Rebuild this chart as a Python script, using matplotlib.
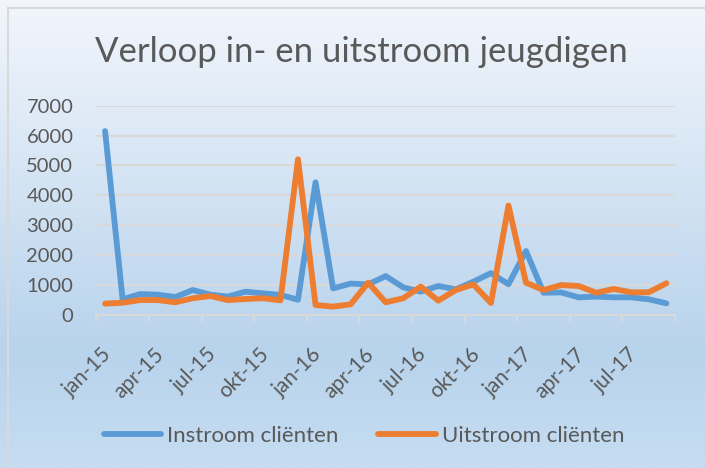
import numpy as np
import matplotlib
matplotlib.use("Agg")
import matplotlib.pyplot as plt
import matplotlib.transforms as mtransforms
from matplotlib.lines import Line2D

months = ["jan", "feb", "mrt", "apr", "mei", "jun", "jul", "aug", "sep", "okt", "nov", "dec"]
categories = [f"{m}-{y}" for y in ("15", "16", "17") for m in months][:33]

instroom = [6150, 525, 700, 680, 600, 835, 680, 615, 780, 725, 670, 510,
            4440, 890, 1050, 1025, 1300, 925, 780, 970, 860, 1115, 1400, 1030,
            2140, 745, 755, 590, 615, 590, 590, 525, 390]
uitstroom = [380, 410, 500, 500, 425, 560, 635, 500, 535, 560, 490, 5207,
             335, 280, 357, 1080, 425, 560, 950, 480, 835, 1025, 400, 3660,
             1080, 835, 1000, 970, 745, 870, 760, 760, 1060]
series_names = ["Instroom cliënten", "Uitstroom cliënten"]
colors = ["#5B9BD5", "#ED7D31"]
title = "Verloop in- en uitstroom jeugdigen"
yticks = [0, 1000, 2000, 3000, 4000, 5000, 6000, 7000]

FONT = ["Lato", "DejaVu Sans"]
TXT = "#595959"
GRID = "#D9D9D9"

W, H = 705, 468
fig = plt.figure(figsize=(W / 100, H / 100), dpi=100)

# gradient background
bg = fig.add_axes([0, 0, 1, 1], zorder=-10)
stops = [(0.0, (242, 246, 252)), (0.75, (184, 211, 236)), (1.0, (198, 221, 242))]
t = np.linspace(0, 1, 400)
cols = np.zeros((400, 3))
for c in range(3):
    cols[:, c] = np.interp(t, [s[0] for s in stops], [s[1][c] for s in stops]) / 255
img = np.repeat(cols[:, None, :], 2, axis=1)
bg.imshow(img, aspect="auto", extent=[0, 1, 0, 1], origin="upper")
bg.set_xlim(0, 1)
bg.set_ylim(0, 1)
bg.axis("off")
# border (left and top)
bg.plot([7.5 / W, 7.5 / W], [0, 1 - 7.5 / H], color="#D9D9D9", lw=1.5)
bg.plot([7.5 / W, 1], [1 - 7.5 / H, 1 - 7.5 / H], color="#D9D9D9", lw=1.5)

left, right = 96.3 / W, 675.1 / W
bottom, top = 1 - 315 / H, 1 - 105.7 / H
ax = fig.add_axes([left, bottom, right - left, top - bottom])
ax.patch.set_alpha(0)

x = np.arange(len(categories))
ax.plot(x, instroom, color=colors[0], lw=4.2, solid_joinstyle="round", solid_capstyle="round", zorder=3)
ax.plot(x, uitstroom, color=colors[1], lw=4.2, solid_joinstyle="round", solid_capstyle="round", zorder=4)

ax.set_xlim(-0.5, len(categories) - 0.5)
ax.set_ylim(0, 7000)
ax.set_yticks(yticks)
ax.set_yticklabels([str(v) for v in yticks], family=FONT, fontsize=14.5, color=TXT)
ax.tick_params(axis="y", length=0, pad=16.5)
for v in yticks[1:]:
    ax.axhline(v, color=GRID, lw=1.5, zorder=1)

ax.set_xticks(np.arange(-0.5, len(categories), 3))
ax.set_xticklabels([])
ax.tick_params(axis="x", which="major", length=5, width=1.5, color=GRID)
ax.set_xticks(x[::3], minor=True)
ax.set_xticklabels([categories[i] for i in x[::3]], minor=True, rotation=45,
                   ha="right", va="center", rotation_mode="anchor",
                   family=FONT, fontsize=15, color=TXT)
ax.tick_params(axis="x", which="minor", length=0, pad=26)
shift = mtransforms.ScaledTranslation(3 / 100, 0, fig.dpi_scale_trans)
for lbl in ax.get_xticklabels(minor=True):
    lbl.set_transform(lbl.get_transform() + shift)

for s in ["top", "right", "left"]:
    ax.spines[s].set_visible(False)
ax.spines["bottom"].set_color(GRID)
ax.spines["bottom"].set_linewidth(1.5)

fig.text(0.5 * (98 + 625) / W, 1 - 52 / H, title, family=FONT, fontsize=25,
         color=TXT, ha="center", va="center")

handles = [Line2D([0], [0], color=c, lw=4.2, solid_capstyle="round") for c in colors]
fig.legend(handles, series_names, loc="center", bbox_to_anchor=(0.516, 1 - 436 / H),
           ncol=2, frameon=False, prop={"family": FONT, "size": 16},
           labelcolor=TXT, handlelength=2.6, columnspacing=1.8, handletextpad=0.25)

fig.savefig("out.png", dpi=100)
